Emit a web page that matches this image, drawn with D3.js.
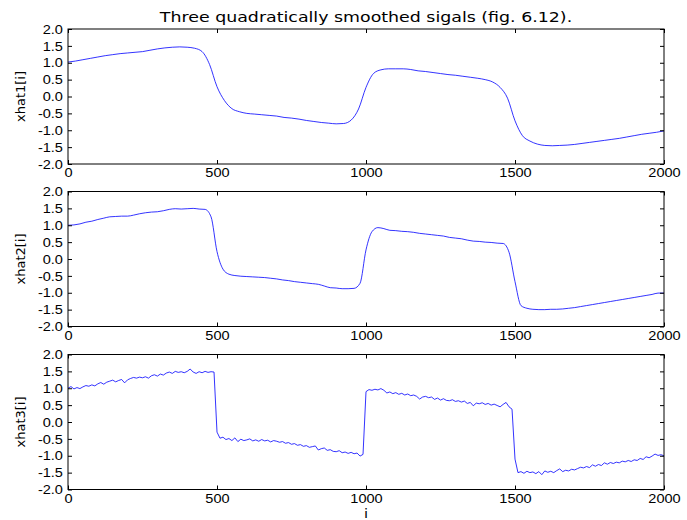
<!doctype html>
<html lang="en">
<head>
<meta charset="utf-8">
<script src="https://cdnjs.cloudflare.com/ajax/libs/d3/7.8.5/d3.min.js"></script>
<style>
  body { margin: 0; background: #fff; }
  svg { display: block; font-family: 'DejaVu Sans', sans-serif; }
  .tick line { stroke: #000; }
  .tick text { fill: #000; font-size: 13px; }
</style>
</head>
<body>
<script>
// x range and y ticks shared by the three panels
const xDomain = [0, 2000];
const xTicks = [0, 500, 1000, 1500, 2000];
const yTicks = [-2.0, -1.5, -1.0, -0.5, 0.0, 0.5, 1.0, 1.5, 2.0];
const yLabels = ["xhat1[i]", "xhat2[i]", "xhat3[i]"];
const title = "Three quadratically smoothed sigals (fig. 6.12).";

const step1 = 25;
const xhat1 = [
  1.02, 1.05, 1.09, 1.13, 1.17, 1.21, 1.24, 1.27,
  1.29, 1.31, 1.33, 1.37, 1.41, 1.44, 1.46, 1.47,
  1.46, 1.43, 1.33, 0.95, 0.29, -0.12, -0.36, -0.45,
  -0.50, -0.52, -0.54, -0.56, -0.58, -0.62, -0.64, -0.67,
  -0.71, -0.74, -0.77, -0.79, -0.81, -0.80, -0.70, -0.37,
  0.27, 0.68, 0.79, 0.82, 0.82, 0.82, 0.80, 0.76,
  0.74, 0.71, 0.68, 0.65, 0.63, 0.60, 0.57, 0.54,
  0.50, 0.43, 0.27, -0.05, -0.72, -1.16, -1.32, -1.41,
  -1.45, -1.46, -1.45, -1.44, -1.42, -1.39, -1.36, -1.33,
  -1.30, -1.27, -1.24, -1.20, -1.16, -1.12, -1.09, -1.06,
  -1.02
];

// xhat2, every 20 samples
const step2 = 20;
const xhat2 = [
  1.00, 1.01, 1.04, 1.09, 1.12, 1.17, 1.21, 1.25, 1.26, 1.27,
  1.27, 1.30, 1.34, 1.37, 1.39, 1.40, 1.43, 1.47, 1.49, 1.48,
  1.49, 1.50, 1.48, 1.47, 1.25, 0.22, -0.30, -0.45, -0.49, -0.51,
  -0.52, -0.53, -0.54, -0.55, -0.57, -0.59, -0.62, -0.64, -0.67, -0.69,
  -0.71, -0.73, -0.75, -0.80, -0.85, -0.86, -0.88, -0.88, -0.87, -0.72,
  0.27, 0.81, 0.93, 0.90, 0.85, 0.84, 0.82, 0.81, 0.79, 0.76,
  0.74, 0.72, 0.70, 0.68, 0.64, 0.62, 0.60, 0.56, 0.53, 0.52,
  0.50, 0.49, 0.47, 0.46, 0.20, -0.67, -1.38, -1.46, -1.49, -1.50,
  -1.50, -1.49, -1.49, -1.48, -1.46, -1.44, -1.41, -1.38, -1.35, -1.32,
  -1.29, -1.26, -1.23, -1.20, -1.17, -1.14, -1.11, -1.08, -1.05, -1.01,
  -1.01
];

// xhat3 (noisy), every 10 samples
const step3 = 10;
const xhat3 = [
  1.00, 1.05, 0.98, 1.02, 0.99, 1.04, 1.08, 1.06, 1.10, 1.07,
  1.13, 1.17, 1.12, 1.18, 1.21, 1.24, 1.19, 1.23, 1.26, 1.16,
  1.25, 1.29, 1.32, 1.30, 1.33, 1.31, 1.34, 1.30, 1.37, 1.40,
  1.36, 1.42, 1.39, 1.45, 1.48, 1.44, 1.50, 1.47, 1.49, 1.46,
  1.50, 1.57, 1.48, 1.44, 1.49, 1.46, 1.50, 1.47, 1.49, 1.48,
  -0.30, -0.48, -0.45, -0.52, -0.49, -0.55, -0.47, -0.58, -0.51, -0.55,
  -0.53, -0.50, -0.56, -0.53, -0.57, -0.52, -0.56, -0.54, -0.59, -0.55,
  -0.57, -0.60, -0.58, -0.63, -0.61, -0.66, -0.64, -0.69, -0.67, -0.72,
  -0.70, -0.75, -0.73, -0.71, -0.83, -0.79, -0.77, -0.84, -0.82, -0.87,
  -0.88, -0.85, -0.91, -0.89, -0.93, -0.90, -0.94, -0.92, -1.01, -0.96,
  0.90, 0.96, 0.94, 0.97, 0.95, 0.99, 0.94, 0.86, 0.89, 0.84,
  0.87, 0.82, 0.85, 0.80, 0.83, 0.78, 0.80, 0.76, 0.68, 0.74,
  0.76, 0.72, 0.74, 0.67, 0.71, 0.65, 0.69, 0.64, 0.63, 0.66,
  0.61, 0.63, 0.59, 0.62, 0.55, 0.58, 0.48, 0.56, 0.54, 0.57,
  0.52, 0.55, 0.50, 0.53, 0.49, 0.45, 0.52, 0.58, 0.45, 0.38,
  -1.10, -1.50, -1.47, -1.52, -1.46, -1.50, -1.48, -1.53, -1.47, -1.56,
  -1.45, -1.49, -1.46, -1.50, -1.44, -1.39, -1.47, -1.43, -1.45, -1.40,
  -1.42, -1.38, -1.34, -1.36, -1.32, -1.35, -1.27, -1.31, -1.26, -1.29,
  -1.21, -1.25, -1.20, -1.23, -1.19, -1.21, -1.16, -1.18, -1.14, -1.17,
  -1.12, -1.14, -1.08, -1.11, -1.03, -1.06, -1.01, -0.95, -0.99, -0.97,
  -1.00
];

const series = [
  {values: xhat1, step: step1, curve: d3.curveMonotoneX},
  {values: xhat2, step: step2, curve: d3.curveMonotoneX},
  {values: xhat3, step: step3, curve: d3.curveLinear}
];

const w = 687, h = 520;
const left = 68, right = 664;
const tops = [29, 191.5, 354.5];
const ph = 135;
const sx = 1.12; // text is a bit wider than normal in the picture

const svg = d3.select("body").append("svg")
  .attr("width", w)
  .attr("height", h);

const xScale = d3.scaleLinear().domain(xDomain).range([left, right]);

series.forEach((s, k) => {
  const top = tops[k];
  const yScale = d3.scaleLinear().domain([-2, 2]).range([top + ph, top]);
  const g = svg.append("g");

  const line = d3.line()
    .x((d, i) => xScale(i * s.step))
    .y(d => yScale(d))
    .curve(s.curve);

  g.append("path")
    .datum(s.values)
    .attr("fill", "none")
    .attr("stroke", "#0000ff")
    .attr("stroke-width", 0.8)
    .attr("d", line);

  // axes, ticks pointing inward
  const bottom = g.append("g")
    .attr("transform", "translate(0," + (top + ph) + ")")
    .call(d3.axisBottom(xScale).tickValues(xTicks).tickSize(-4).tickPadding(4)
      .tickFormat(d3.format("d")).tickSizeOuter(0));
  bottom.selectAll("text").attr("transform", "scale(" + sx + ",1)");

  g.append("g")
    .attr("transform", "translate(0," + top + ")")
    .call(d3.axisTop(xScale).tickValues(xTicks).tickSize(-4).tickFormat("").tickSizeOuter(0));

  const leftAx = g.append("g")
    .attr("transform", "translate(" + left + ",0)")
    .call(d3.axisLeft(yScale).tickValues(yTicks).tickSize(-4).tickPadding(4.5)
      .tickFormat(d => d.toFixed(1)).tickSizeOuter(0));
  leftAx.selectAll("text").attr("transform", "scale(" + sx + ",1)");

  g.append("g")
    .attr("transform", "translate(" + right + ",0)")
    .call(d3.axisRight(yScale).tickValues(yTicks).tickSize(-4).tickFormat("").tickSizeOuter(0));

  g.selectAll(".domain").remove();

  g.append("rect")
    .attr("x", left)
    .attr("y", top)
    .attr("width", right - left)
    .attr("height", ph)
    .attr("fill", "none")
    .attr("stroke", "#000")
    .attr("stroke-width", 1);

  g.append("text")
    .attr("transform", "translate(25," + (top + ph / 2) + ") rotate(-90)")
    .attr("text-anchor", "middle")
    .attr("font-size", "13px")
    .text(yLabels[k]);
});

svg.append("text")
  .attr("transform", "translate(" + ((left + right) / 2) + ",21.5) scale(1.2,1)")
  .attr("text-anchor", "middle")
  .attr("font-size", "14.5px")
  .text(title);

svg.append("text")
  .attr("transform", "translate(" + ((left + right) / 2) + ",518) scale(" + sx + ",1)")
  .attr("text-anchor", "middle")
  .attr("font-size", "13px")
  .text("i");
</script>
</body>
</html>
